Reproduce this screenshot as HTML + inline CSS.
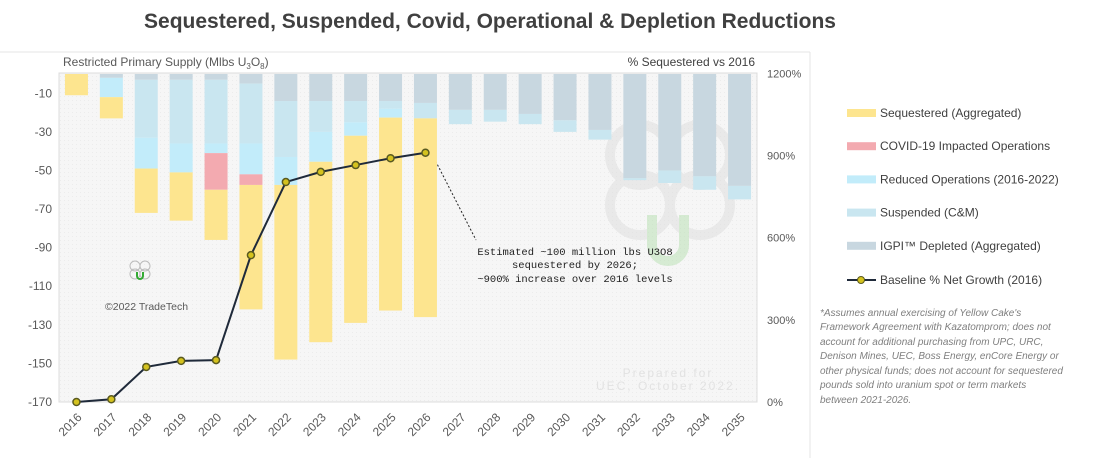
<!DOCTYPE html>
<html><head><meta charset="utf-8"><style>
body{margin:0;background:#fff;width:1112px;height:458px;overflow:hidden;font-family:"Liberation Sans",sans-serif}
svg{position:absolute;left:0;top:0}
</style></head><body>
<svg id="c" width="1112" height="458" font-family="Liberation Sans, sans-serif">
<defs><pattern id="dots" width="4" height="4" patternUnits="userSpaceOnUse"><rect width="4" height="4" fill="#f6f6f6"/><rect width="1" height="1" fill="#ececec"/></pattern></defs>
<text x="490" y="28" text-anchor="middle" font-size="21" font-weight="bold" fill="#404040">Sequestered, Suspended, Covid, Operational &amp; Depletion Reductions</text>
<line x1="0" y1="52" x2="810" y2="52" stroke="#e4e4e4"/>
<line x1="810" y1="52" x2="810" y2="458" stroke="#e4e4e4"/>
<rect x="59" y="73" width="698" height="329" fill="url(#dots)" stroke="#dcdcdc"/>
<text x="63" y="66" font-size="12" fill="#595959">Restricted  Primary Supply (Mlbs U<tspan font-size="8" dy="3">3</tspan><tspan dy="-3">O</tspan><tspan font-size="8" dy="3">8</tspan><tspan dy="-3">)</tspan></text>
<text x="755" y="66" text-anchor="end" font-size="12" fill="#404040">% Sequestered  vs 2016</text>
<g id="wm" opacity="0.5">
<circle cx="640" cy="155" r="30" fill="none" stroke="#ddd" stroke-width="10"/><circle cx="700" cy="155" r="30" fill="none" stroke="#ddd" stroke-width="10"/>
<circle cx="640" cy="205" r="30" fill="none" stroke="#ddd" stroke-width="10"/><circle cx="700" cy="205" r="30" fill="none" stroke="#ddd" stroke-width="10"/>
<path d="M652 215 V245 a16 16 0 0 0 32 0 V215" fill="none" stroke="#b5e0b0" stroke-width="10"/></g>
<text x="668" y="377" text-anchor="middle" font-size="12" fill="#e2e2e2" letter-spacing="2">Prepared  for</text>
<text x="668" y="390" text-anchor="middle" font-size="12" fill="#e2e2e2" letter-spacing="2">UEC, October  2022.</text>
<g><circle cx="135" cy="266" r="5" fill="none" stroke="#bbb"/><circle cx="145" cy="266" r="5" fill="none" stroke="#bbb"/><circle cx="135" cy="274" r="5" fill="none" stroke="#bbb"/><circle cx="145" cy="274" r="5" fill="none" stroke="#bbb"/><path d="M137 272 v4 a3 3 0 0 0 6 0 v-4" fill="none" stroke="#3a3" stroke-width="2"/></g>
<text x="105" y="310" font-size="10.5" fill="#595959">©2022 TradeTech</text>
<line x1="432" y1="154" x2="476" y2="240" stroke="#222" stroke-dasharray="2,2"/>
<g font-family="Liberation Mono, monospace" font-size="10.5" fill="#222" text-anchor="middle">
<text x="575" y="255">Estimated ~100 million lbs U3O8</text><text x="575" y="268">sequestered by 2026;</text><text x="575" y="282">~900% increase over 2016 levels</text></g>
<g id="bars"></g><g id="axes"></g><g id="line"></g>
<g id="legend" font-size="12" fill="#404040"></g>
<g font-size="10" font-style="italic" fill="#7f7f7f">
<text x="820" y="316">*Assumes annual exercising of Yellow Cake's</text>
<text x="820" y="330">Framework Agreement with Kazatomprom; does not</text>
<text x="820" y="345">account  for additional purchasing from UPC, URC,</text>
<text x="820" y="359">Denison Mines, UEC, Boss Energy, enCore Energy or</text>
<text x="820" y="374">other physical funds; does not account for sequestered</text>
<text x="820" y="388">pounds sold into uranium spot or term markets</text>
<text x="820" y="403">between 2021-2026.</text></g>
</svg>
<script>
const years=["2016","2017","2018","2019","2020","2021","2022","2023","2024","2025","2026","2027","2028","2029","2030","2031","2032","2033","2034","2035"];
const depleted=[0,2,3,3,3,5,14,14,14,14,15,18.6,18.6,20.7,24,29,54,50,53,58];
const suspended=[0,0,30,33,33,31,29,16,11,4,8,7.4,6.1,5.3,6,5,1,6.5,7,7];
const reduced=[0,10,16,15,5,16,14.5,15.5,7,4.6,0,0,0,0,0,0,0,0,0,0];
const covid=[0,0,0,0,19,5.5,0,0,0,0,0,0,0,0,0,0,0,0,0,0];
const sequestered=[11,11,23,25,26,64.5,90.5,93.5,97,100,103,0,0,0,0,0,0,0,0,0];
const growthPct=[0,10,128,150,153,536,803,840,865,890,910];
const leftTicks=[-10,-30,-50,-70,-90,-110,-130,-150,-170];
const rightTicks=[0,300,600,900,1200];
const NS="http://www.w3.org/2000/svg";
const X0=59,W=698,Y0=74,Y170=402;
const xc=i=>X0+W/years.length*(i+0.5);
const yL=v=>Y0+(Y170-Y0)*(-v)/170;
const yR=p=>402-(402-73.3)*p/1200;
function mk(t,a,p){const e=document.createElementNS(NS,t);for(const k in a)e.setAttribute(k,a[k]);p.appendChild(e);return e;}
const series=[["depleted",depleted,"#c8d7e0"],["suspended",suspended,"#c9e6f0"],["reduced",reduced,"#c2ecfa"],["covid",covid,"#f3aab0"],["sequestered",sequestered,"#fde58f"]];
const bars=document.getElementById('bars');
years.forEach((yr,i)=>{let acc=0;series.forEach(s=>{const v=s[1][i];if(v>0){const r=mk('rect',{x:xc(i)-11.5,y:yL(-acc),width:23,height:yL(-(acc+v))-yL(-acc),fill:s[2]},bars);

}acc+=v;});});
const ax=document.getElementById('axes');
leftTicks.forEach(t=>{const e=mk('text',{x:52,y:yL(t)+4,'text-anchor':'end','font-size':12,fill:'#595959'},ax);e.textContent=t;

});
rightTicks.forEach(t=>{const e=mk('text',{x:767,y:yR(t)+4,'font-size':11,fill:'#595959'},ax);e.textContent=t+'%';

});
years.forEach((yr,i)=>{const x=xc(i)+6,y=418;const e=mk('text',{x:x,y:y,'text-anchor':'end','font-size':12,fill:'#595959',transform:`rotate(-45 ${x} ${y})`},ax);e.textContent=yr;

});
const ln=document.getElementById('line');
const pts=growthPct.map((p,i)=>xc(i)+','+yR(p)).join(' ');
const pl=mk('polyline',{points:pts,fill:'none',stroke:'#1f2a3a','stroke-width':2},ln);


growthPct.forEach((p,i)=>{const c=mk('circle',{cx:xc(i),cy:yR(p),r:3.5,fill:'#d4c21e',stroke:'#5a5a20','stroke-width':1.5},ln);

});
const lg=document.getElementById('legend');
const items=[["Sequestered (Aggregated)","#fde58f"],["COVID-19 Impacted Operations","#f3aab0"],["Reduced Operations (2016-2022)","#c2ecfa"],["Suspended (C&M)","#c9e6f0"],["IGPI™ Depleted (Aggregated)","#c8d7e0"]];
items.forEach((it,k)=>{const y=113+k*33.2;const r=mk('rect',{x:847,y:y-4,width:29,height:8,fill:it[1]},lg);


const t=mk('text',{x:880,y:y+4},lg);t.textContent=it[0];

});
const ly=280;
const l1=mk('line',{x1:847,y1:ly,x2:876,y2:ly,stroke:'#1f2a3a','stroke-width':2},lg);


mk('circle',{cx:861,cy:ly,r:3.5,fill:'#d4c21e',stroke:'#5a5a20'},lg);
const lt=mk('text',{x:880,y:ly+4},lg);lt.textContent="Baseline % Net Growth (2016)";


</script>
</body></html>
